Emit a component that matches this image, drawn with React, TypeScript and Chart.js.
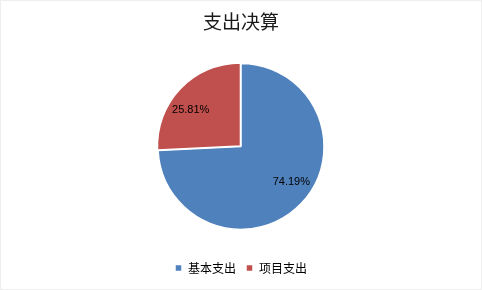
import React, { useEffect, useRef } from "react";
import { Chart, registerables } from "chart.js";

Chart.register(...registerables);

const categories = ["基本支出", "项目支出"];
const values = [74.19, 25.81];
const colors = ["#4F81BD", "#C0504D"];
const offsets = [0, 3];
const titleText = "支出决算";

const bgPlugin = {
  id: "bgPlugin",
  beforeDraw(chart: any) {
    const { ctx, width, height } = chart;
    ctx.save();
    ctx.fillStyle = "#ffffff";
    ctx.fillRect(0, 0, width, height);
    ctx.strokeStyle = "#eeeeee";
    ctx.lineWidth = 1;
    ctx.strokeRect(0.5, 0.5, width - 1, height - 1);
    ctx.restore();
  },
};

const labelPlugin = {
  id: "labelPlugin",
  afterDatasetsDraw(chart: any) {
    const { ctx } = chart;
    const meta = chart.getDatasetMeta(0);
    ctx.save();
    ctx.font = "11px 'Liberation Sans', 'DejaVu Sans', sans-serif";
    ctx.fillStyle = "#000000";
    ctx.textAlign = "center";
    ctx.textBaseline = "middle";
    meta.data.forEach((arc: any, i: number) => {
      const p = arc.getProps(["x", "y", "startAngle", "endAngle", "outerRadius"], true);
      const mid = (p.startAngle + p.endAngle) / 2 - (8 * Math.PI) / 180;
      const r = p.outerRadius * 0.745;
      const x = p.x + Math.cos(mid) * r;
      const y = p.y + Math.sin(mid) * r;
      ctx.fillText(values[i].toFixed(2) + "%", x, y);
    });
    ctx.restore();
  },
};

export default function App() {
  const ref = useRef<HTMLCanvasElement | null>(null);
  useEffect(() => {
    if (!ref.current) return;
    const chart = new Chart(ref.current, {
      type: "pie",
      data: {
        labels: categories,
        datasets: [
          {
            data: values,
            backgroundColor: colors,
            borderColor: "#ffffff",
            borderWidth: 1.5,
            offset: offsets,
            radius: 83,
          } as any,
        ],
      },
      options: {
        responsive: false,
        animation: false,
        layout: { padding: { top: 0, bottom: 6, left: 0, right: 0 } },
        plugins: {
          title: {
            display: true,
            text: titleText,
            color: "#1a1a1a",
            font: { size: 19, weight: "normal", family: "'Noto Sans CJK SC', sans-serif" },
            padding: { top: 10, bottom: 8 },
          },
          legend: {
            display: true,
            position: "bottom",
            labels: {
              boxWidth: 7,
              boxHeight: 7,
              padding: 10,
              color: "#000000",
              font: { size: 12, family: "'Noto Sans CJK SC', sans-serif" },
            },
          },
          tooltip: { enabled: false },
        },
      },
      plugins: [bgPlugin, labelPlugin],
    });
    return () => chart.destroy();
  }, []);
  return (
    <div style={{ position: "absolute", left: 0, top: 0, width: 482, height: 290 }}>
      <canvas ref={ref} width={482} height={290} style={{ display: "block" }} />
    </div>
  );
}
